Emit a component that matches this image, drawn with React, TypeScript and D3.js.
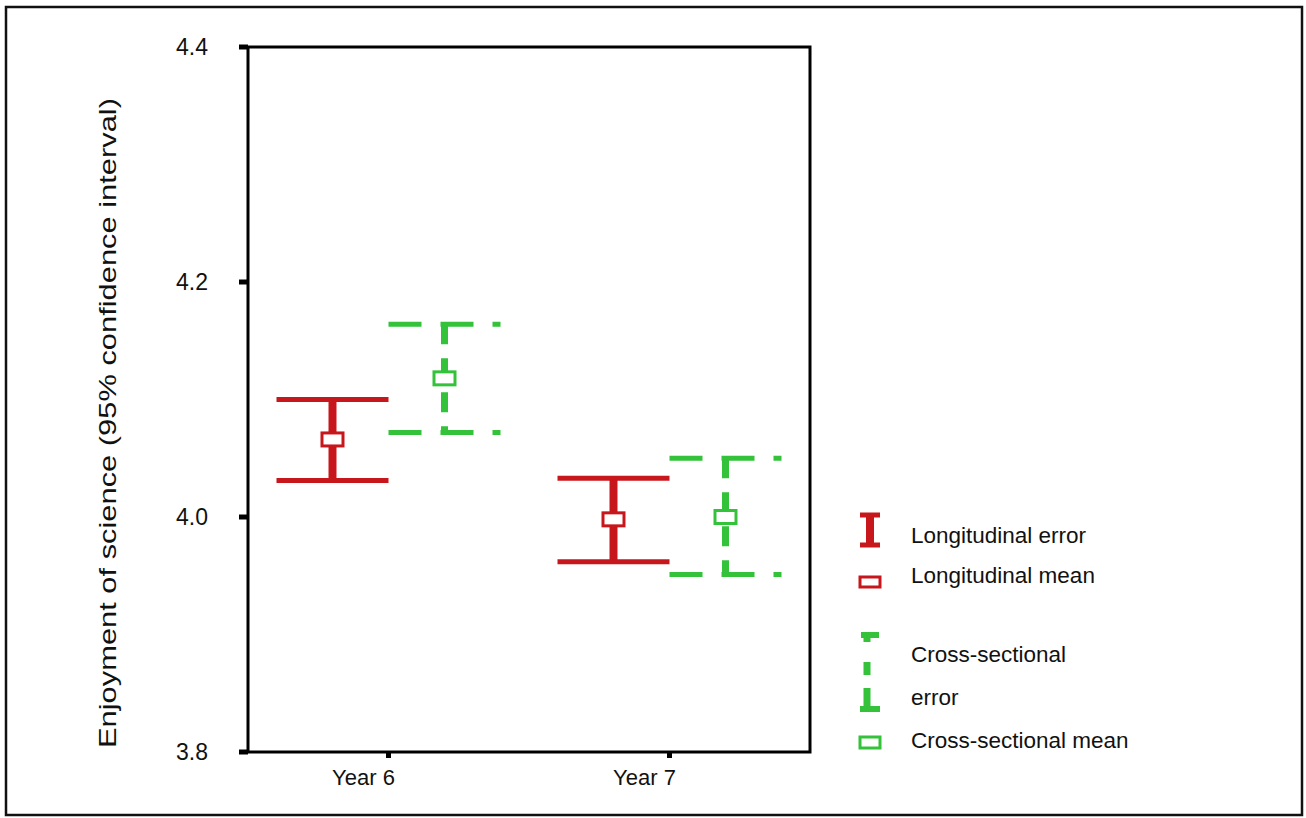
import { useEffect, useRef } from "react";
import * as d3 from "d3";

const categories = ["Year 6", "Year 7"];
const yTicks = [3.8, 4.0, 4.2, 4.4];

// longitudinal sample
const longMean = [4.066, 3.998];
const longLow = [4.031, 3.962];
const longHigh = [4.1, 4.033];

// cross-sectional sample
const crossMean = [4.118, 4.0];
const crossLow = [4.072, 3.951];
const crossHigh = [4.164, 4.05];

const legendItems = [
  { label: "Longitudinal error", y: 543 },
  { label: "Longitudinal mean", y: 583 },
  { label: "Cross-sectional", y: 662 },
  { label: "error", y: 705 },
  { label: "Cross-sectional mean", y: 748 },
];

const RED = "#c8161d";
const GREEN = "#33c23a";
const FONT = "'Liberation Sans', Arial, sans-serif";

export default function App() {
  const width = 1306;
  const height = 818;
  const svgRef = useRef<SVGSVGElement>(null);

  useEffect(() => {
    const svg = d3.select(svgRef.current);
    svg.selectAll("*").remove();

    const left = 248;
    const right = 810;
    const top = 47;
    const bottom = 752;

    const x = d3.scalePoint<string>().domain(categories).range([left, right]).padding(0.5);
    const y = d3.scaleLinear().domain([3.8, 4.4]).range([bottom, top]);
    const offset = 56;
    const capHalf = 56;

    // outer frame
    svg
      .append("rect")
      .attr("x", 6)
      .attr("y", 7)
      .attr("width", 1296)
      .attr("height", 808)
      .attr("fill", "white")
      .attr("stroke", "#111")
      .attr("stroke-width", 2.5);

    // plot box
    svg
      .append("rect")
      .attr("x", left)
      .attr("y", top)
      .attr("width", right - left)
      .attr("height", bottom - top)
      .attr("fill", "none")
      .attr("stroke", "#000")
      .attr("stroke-width", 3);

    // y ticks
    const yAxis = svg.append("g");
    yAxis
      .selectAll("line")
      .data(yTicks)
      .join("line")
      .attr("x1", left - 9)
      .attr("x2", left)
      .attr("y1", (d) => y(d))
      .attr("y2", (d) => y(d))
      .attr("stroke", "#000")
      .attr("stroke-width", 5);
    yAxis
      .selectAll("text")
      .data(yTicks)
      .join("text")
      .attr("x", 208)
      .attr("y", (d) => y(d) + 8)
      .attr("text-anchor", "end")
      .attr("font-family", FONT)
      .attr("font-size", 23)
      .attr("fill", "#111")
      .text((d) => d.toFixed(1));

    // x ticks
    const xAxis = svg.append("g");
    xAxis
      .selectAll("line")
      .data(categories)
      .join("line")
      .attr("x1", (d) => x(d)!)
      .attr("x2", (d) => x(d)!)
      .attr("y1", bottom)
      .attr("y2", bottom + 6)
      .attr("stroke", "#000")
      .attr("stroke-width", 5);
    xAxis
      .selectAll("text")
      .data(categories)
      .join("text")
      .attr("x", (d) => x(d)! - 25)
      .attr("y", bottom + 33)
      .attr("text-anchor", "middle")
      .attr("font-family", FONT)
      .attr("font-size", 22)
      .attr("fill", "#111")
      .text((d) => d);

    // y title
    svg
      .append("text")
      .attr("transform", "translate(116,423) rotate(-90)")
      .attr("text-anchor", "middle")
      .attr("font-family", FONT)
      .attr("font-size", 24)
      .attr("fill", "#111")
      .attr("textLength", 650)
      .attr("lengthAdjust", "spacingAndGlyphs")
      .text("Enjoyment of science (95% confidence interval)");

    // longitudinal error bars
    const idx = d3.range(categories.length);
    const lg = svg.append("g");
    lg.selectAll(".stem")
      .data(idx)
      .join("line")
      .attr("x1", (i) => x(categories[i])! - offset)
      .attr("x2", (i) => x(categories[i])! - offset)
      .attr("y1", (i) => y(longHigh[i]))
      .attr("y2", (i) => y(longLow[i]))
      .attr("stroke", RED)
      .attr("stroke-width", 8);
    [longHigh, longLow].forEach((vals) => {
      lg.append("g")
        .selectAll("line")
        .data(idx)
        .join("line")
        .attr("x1", (i) => x(categories[i])! - offset - capHalf)
        .attr("x2", (i) => x(categories[i])! - offset + capHalf)
        .attr("y1", (i) => y(vals[i]))
        .attr("y2", (i) => y(vals[i]))
        .attr("stroke", RED)
        .attr("stroke-width", 5);
    });
    lg.append("g")
      .selectAll("rect")
      .data(idx)
      .join("rect")
      .attr("x", (i) => x(categories[i])! - offset - 10.5)
      .attr("y", (i) => y(longMean[i]) - 6.5)
      .attr("width", 21)
      .attr("height", 13)
      .attr("fill", "white")
      .attr("stroke", RED)
      .attr("stroke-width", 3);

    // cross-sectional error bars (dashed)
    const cg = svg.append("g");
    cg.selectAll(".stem")
      .data(idx)
      .join("line")
      .attr("x1", (i) => x(categories[i])! + offset)
      .attr("x2", (i) => x(categories[i])! + offset)
      .attr("y1", (i) => y(crossHigh[i]))
      .attr("y2", (i) => y(crossLow[i]))
      .attr("stroke", GREEN)
      .attr("stroke-width", 7)
      .attr("stroke-dasharray", "20,14");
    [crossHigh, crossLow].forEach((vals) => {
      cg.append("g")
        .selectAll("line")
        .data(idx)
        .join("line")
        .attr("x1", (i) => x(categories[i])! + offset - capHalf)
        .attr("x2", (i) => x(categories[i])! + offset + capHalf)
        .attr("y1", (i) => y(vals[i]))
        .attr("y2", (i) => y(vals[i]))
        .attr("stroke", GREEN)
        .attr("stroke-width", 5)
        .attr("stroke-dasharray", "33,19");
    });
    cg.append("g")
      .selectAll("rect")
      .data(idx)
      .join("rect")
      .attr("x", (i) => x(categories[i])! + offset - 10.5)
      .attr("y", (i) => y(crossMean[i]) - 6.5)
      .attr("width", 21)
      .attr("height", 13)
      .attr("fill", "white")
      .attr("stroke", GREEN)
      .attr("stroke-width", 3);

    // legend
    const leg = svg.append("g");
    // red I
    leg.append("line").attr("x1", 870).attr("x2", 870).attr("y1", 513).attr("y2", 547)
      .attr("stroke", RED).attr("stroke-width", 8);
    [515, 545].forEach((yy) =>
      leg.append("line").attr("x1", 860).attr("x2", 880).attr("y1", yy).attr("y2", yy)
        .attr("stroke", RED).attr("stroke-width", 5)
    );
    leg.append("rect").attr("x", 860).attr("y", 577).attr("width", 20).attr("height", 10)
      .attr("fill", "white").attr("stroke", RED).attr("stroke-width", 3);
    // green dashed I
    leg.append("line").attr("x1", 867).attr("x2", 867).attr("y1", 632).attr("y2", 712)
      .attr("stroke", GREEN).attr("stroke-width", 7).attr("stroke-dasharray", "10,20,13,13,24");
    leg.append("line").attr("x1", 861).attr("x2", 879).attr("y1", 635).attr("y2", 635)
      .attr("stroke", GREEN).attr("stroke-width", 6);
    leg.append("line").attr("x1", 860).attr("x2", 880).attr("y1", 709).attr("y2", 709)
      .attr("stroke", GREEN).attr("stroke-width", 6);
    leg.append("rect").attr("x", 860).attr("y", 737).attr("width", 20).attr("height", 11)
      .attr("fill", "white").attr("stroke", GREEN).attr("stroke-width", 3);

    leg.selectAll("text")
      .data(legendItems)
      .join("text")
      .attr("x", 911)
      .attr("y", (d) => d.y)
      .attr("font-family", FONT)
      .attr("font-size", 22.5)
      .attr("fill", "#111")
      .text((d) => d.label);
  }, []);

  return (
    <svg
      ref={svgRef}
      width={width}
      height={height}
      style={{ position: "absolute", left: 0, top: 0, background: "white" }}
    ></svg>
  );
}
